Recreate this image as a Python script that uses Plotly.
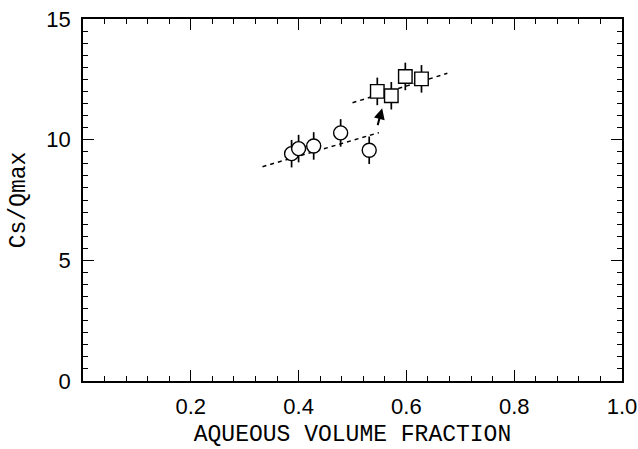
import plotly.graph_objects as go

# Data
circle_x = [0.387, 0.400, 0.428, 0.478, 0.531]
circle_y = [9.42, 9.63, 9.74, 10.28, 9.56]
circle_err = [0.57, 0.57, 0.57, 0.57, 0.57]

square_x = [0.546, 0.572, 0.598, 0.628]
square_y = [12.00, 11.82, 12.62, 12.52]
square_err = [0.57, 0.57, 0.57, 0.57]

fit1_x = [0.333, 0.549]
fit1_y = [8.88, 10.29]
fit2_x = [0.500, 0.676]
fit2_y = [11.53, 12.75]

arrow_tail = (0.546, 10.54)
arrow_head = (0.555, 11.30)

x_tickvals = [0.2, 0.4, 0.6, 0.8, 1.0]
x_ticktext = ["0.2", "0.4", "0.6", "0.8", "1.0"]
y_tickvals = [0, 5, 10, 15]
y_ticktext = ["0", "5", "10", "15"]

fig = go.Figure()

for fx, fy in ((fit1_x, fit1_y), (fit2_x, fit2_y)):
    fig.add_trace(go.Scatter(x=fx, y=fy, mode="lines",
                             line=dict(color="black", width=1.5, dash="4px,4px"),
                             showlegend=False, hoverinfo="skip"))

fig.add_trace(go.Scatter(x=circle_x, y=circle_y, mode="markers",
                         marker=dict(symbol="circle", size=14, color="white",
                                     line=dict(color="black", width=1.4)),
                         error_y=dict(type="data", array=circle_err, width=0,
                                      thickness=1.7, color="black"),
                         showlegend=False))
fig.add_trace(go.Scatter(x=square_x, y=square_y, mode="markers",
                         marker=dict(symbol="square", size=13.5, color="white",
                                     line=dict(color="black", width=1.4)),
                         error_y=dict(type="data", array=square_err, width=0,
                                      thickness=1.7, color="black"),
                         showlegend=False))

fig.add_annotation(x=arrow_head[0], y=arrow_head[1], ax=arrow_tail[0], ay=arrow_tail[1],
                   xref="x", yref="y", axref="x", ayref="y", text="",
                   showarrow=True, arrowhead=2, arrowsize=1.1, arrowwidth=2,
                   arrowcolor="black")

tickfont = dict(family="Liberation Sans, Arial, sans-serif", size=22, color="black")
titlefont = dict(family="Liberation Mono, monospace", size=23, color="black")

fig.update_xaxes(range=[0, 1.0], tickvals=x_tickvals, ticktext=x_ticktext,
                 ticks="inside", ticklen=11, tickwidth=1.3, tickcolor="black",
                 showline=True, linecolor="black", linewidth=1.5, mirror="allticks",
                 showgrid=False, zeroline=False, tickfont=tickfont, automargin=False,
                 ticklabelstandoff=5, ticklabeloverflow="allow",
                 minor=dict(dtick=0.04, tick0=0, ticks="inside", ticklen=5,
                            tickwidth=1.2, tickcolor="black", showgrid=False),
                 title=dict(text="AQUEOUS VOLUME FRACTION", font=titlefont, standoff=7))
fig.update_yaxes(range=[0, 15], tickvals=y_tickvals, ticktext=y_ticktext,
                 ticks="inside", ticklen=11, tickwidth=1.3, tickcolor="black",
                 showline=True, linecolor="black", linewidth=1.5, mirror="allticks",
                 showgrid=False, zeroline=False, tickfont=tickfont, automargin=False,
                 ticklabelstandoff=6, ticklabeloverflow="allow",
                 minor=dict(dtick=0.5, tick0=0, ticks="inside", ticklen=5,
                            tickwidth=1.2, tickcolor="black", showgrid=False),
                 title=dict(text="Cs/Qmax", font=titlefont, standoff=14))

fig.update_layout(width=638, height=449,
                  margin=dict(l=83, r=16, t=19, b=68),
                  plot_bgcolor="white", paper_bgcolor="white")

# remove the default page margin so the 638x449 figure fills the window exactly
fig.write_html("out.html",
               config={"displayModeBar": False},
               post_script="document.body.style.margin='0';"
                           "document.body.style.overflow='hidden';")
